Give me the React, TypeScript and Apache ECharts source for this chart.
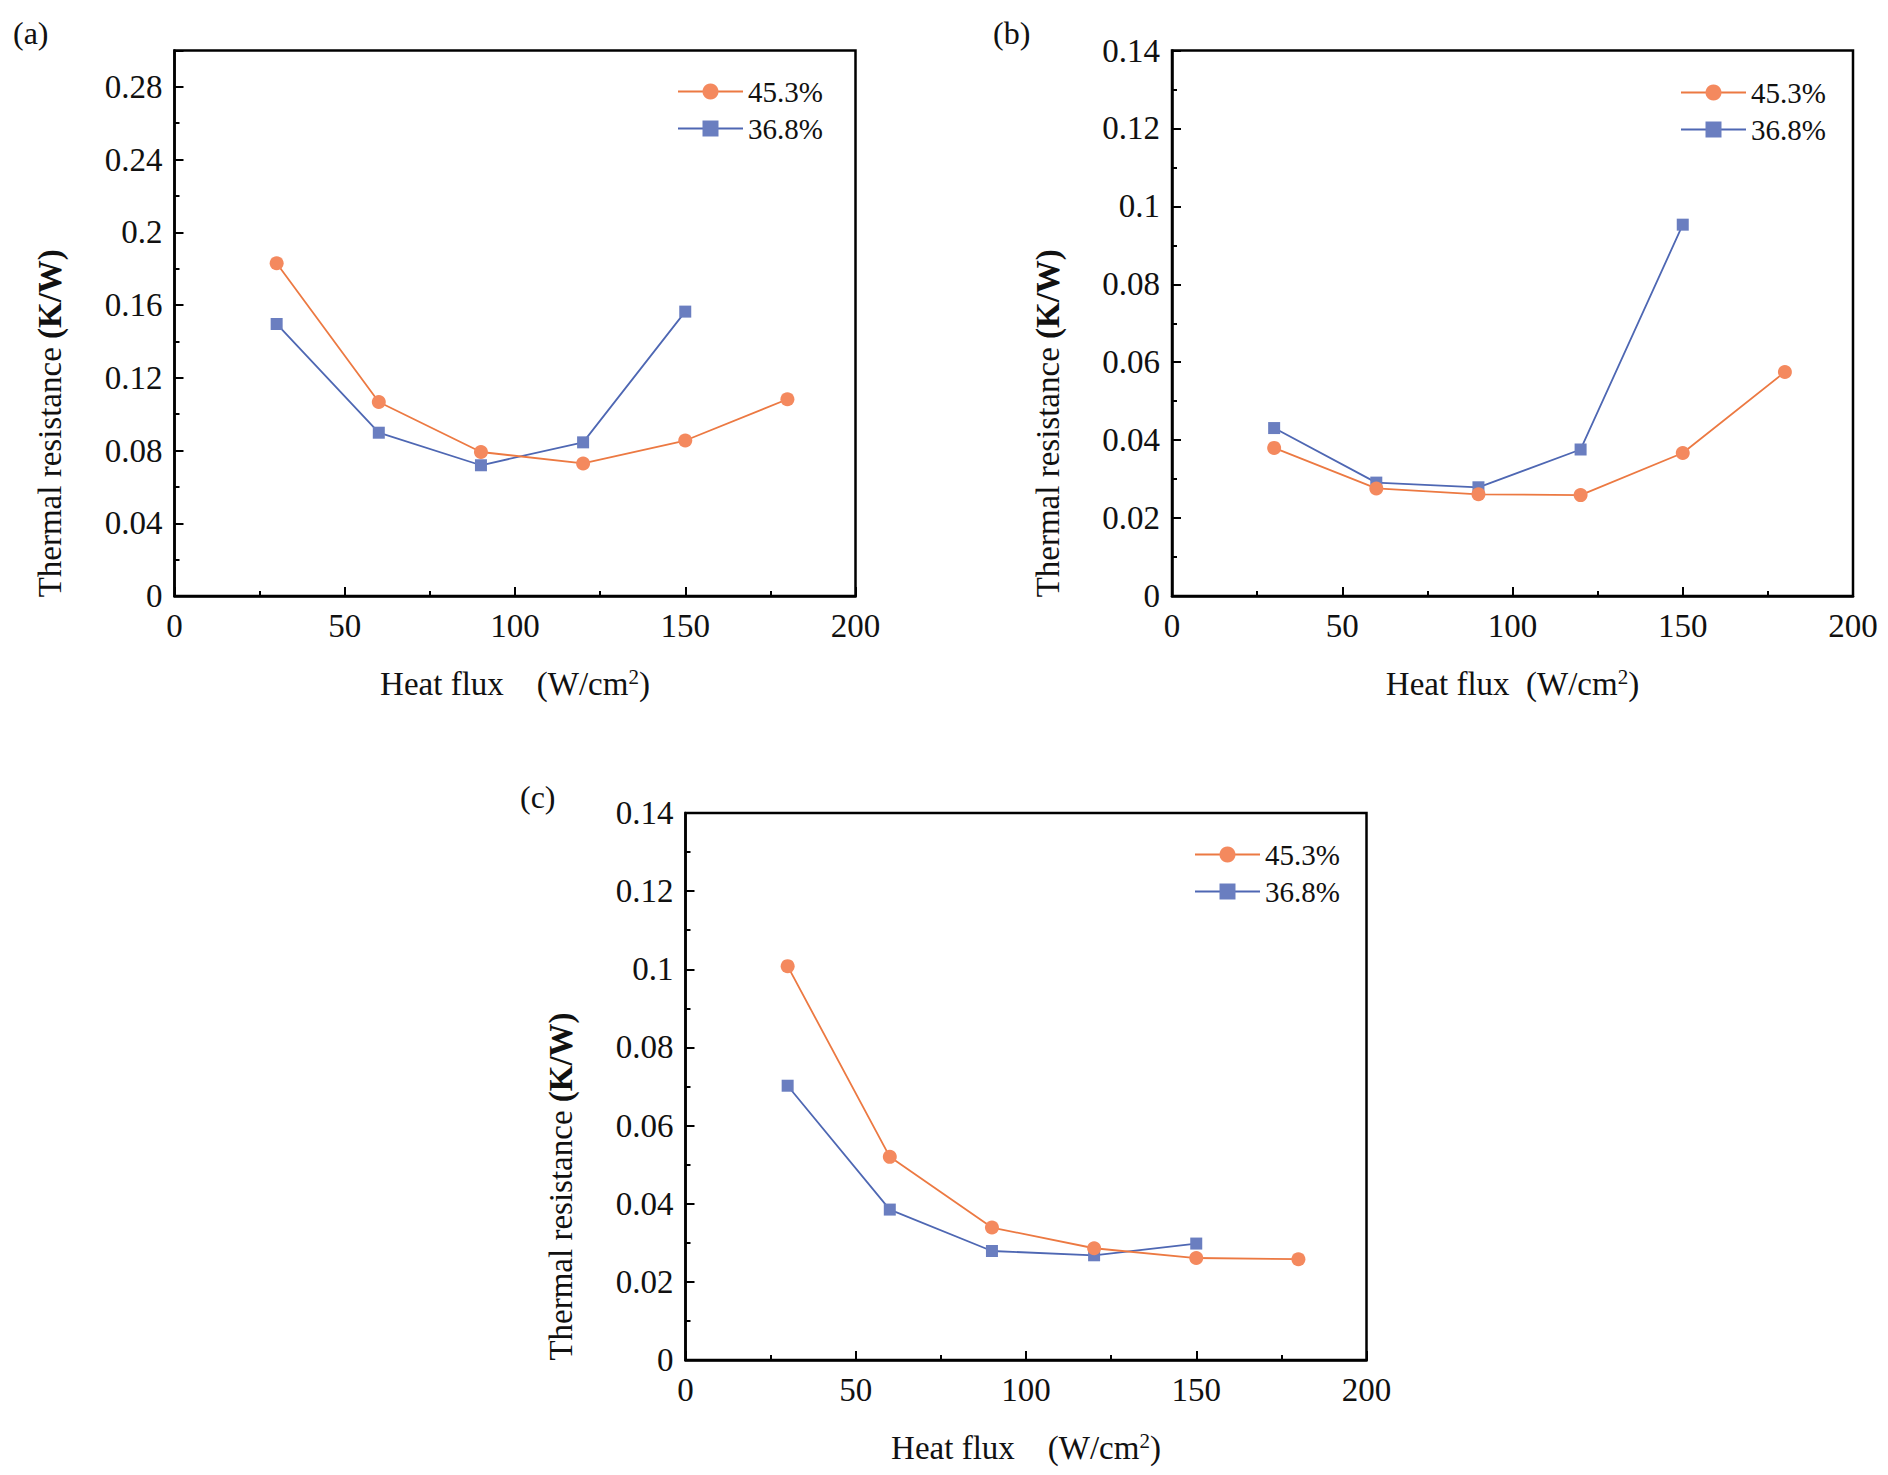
import React, { useEffect, useRef } from "react";
import * as echarts from "echarts";

const heatFlux = [30, 60, 90, 120, 150, 180];
const heatFluxBlue = [30, 60, 90, 120, 150];

const aOrange = [0.183, 0.1067, 0.0792, 0.0729, 0.0855, 0.1082];
const aBlue = [0.1496, 0.0898, 0.0719, 0.0845, 0.1564];
const bOrange = [0.038, 0.0276, 0.0261, 0.0259, 0.0367, 0.0575];
const bBlue = [0.0431, 0.0291, 0.0279, 0.0376, 0.0953];
const cOrange = [0.1008, 0.052, 0.0339, 0.0286, 0.0261, 0.0258];
const cBlue = [0.0702, 0.0385, 0.0279, 0.0268, 0.0298];

const seriesNames = ["45.3%", "36.8%"];
const panelLabels = ["(a)", "(b)", "(c)"];
const xTitleParts = ["Heat flux", "(W/cm", "2", ")"];
const yTitleParts = ["Thermal resistance ", "(K/W)"];

const FONT = "Liberation Serif";
const ORANGE_SYM = "#F4895E";
const ORANGE_LINE = "#EC7942";
const BLUE_SYM = "#6A7EC0";
const BLUE_LINE = "#4E67B3";

const grids = [
  { left: 174.5, top: 50.5, width: 681, height: 545.5 },
  { left: 1172, top: 50.5, width: 681, height: 545.5 },
  { left: 685.5, top: 813, width: 681, height: 547 },
];
const yMax = [0.3, 0.14, 0.14];
const yInterval = [0.04, 0.02, 0.02];
const xGaps = ["\u00A0\u00A0\u00A0\u00A0", "\u00A0\u00A0", "\u00A0\u00A0\u00A0\u00A0"];
const legendPos = [
  { left: 677, top: 77 },
  { left: 1680, top: 78 },
  { left: 1194, top: 840 },
];
const labelPos = [
  { left: 13, top: 17 },
  { left: 993, top: 17 },
  { left: 520, top: 781 },
];

function pairs(xs: number[], ys: number[]) {
  return ys.map((y, i) => [xs[i], y]);
}

export default function App() {
  const ref = useRef<HTMLDivElement>(null);
  useEffect(() => {
    if (!ref.current) return;
    const chart = echarts.init(ref.current, null, { renderer: "svg" });
    const data = [
      [aOrange, aBlue],
      [bOrange, bBlue],
      [cOrange, cBlue],
    ];
    const axisLine = { show: true, lineStyle: { color: "#000", width: 2.5 } };
    const tick = { show: true, inside: true, length: 9, lineStyle: { color: "#000", width: 2 } };
    const minor = { show: true, splitNumber: 2, length: 5, lineStyle: { color: "#000", width: 2 } };
    const label = { color: "#111", fontFamily: FONT, fontSize: 33 };

    const option: any = {
      animation: false,
      backgroundColor: "#fff",
      title: panelLabels.map((t, i) => ({
        text: t,
        left: labelPos[i].left,
        top: labelPos[i].top,
        padding: 0,
        textStyle: { fontFamily: FONT, fontSize: 32, fontWeight: "normal", color: "#111" },
      })),
      grid: grids.map((g) => ({
        ...g,
        show: true,
        borderColor: "#000",
        borderWidth: 2.5,
        backgroundColor: "transparent",
        containLabel: false,
      })),
      legend: legendPos.map((p) => ({
        ...p,
        orient: "vertical",
        data: seriesNames,
        itemWidth: 65,
        itemHeight: 20,
        itemGap: 8,
        padding: 0,
        textStyle: { fontFamily: FONT, fontSize: 29, color: "#111", lineHeight: 28 },
      })),
      xAxis: grids.map((_, i) => ({
        type: "value",
        gridIndex: i,
        min: 0,
        max: 200,
        interval: 50,
        axisLine,
        axisTick: tick,
        minorTick: minor,
        splitLine: { show: false },
        axisLabel: { ...label, margin: 13 },
        name:
          "{a|" + xTitleParts[0] + xGaps[i] + xTitleParts[1] + "}{s|" + xTitleParts[2] + "}{a|" + xTitleParts[3] + "}",
        nameLocation: "middle",
        nameGap: 70,
        nameTextStyle: {
          rich: {
            a: { fontFamily: FONT, fontSize: 33, color: "#111", lineHeight: 36 },
            s: { fontFamily: FONT, fontSize: 21, color: "#111", lineHeight: 20, verticalAlign: "top" },
          },
        },
      })),
      yAxis: grids.map((_, i) => ({
        type: "value",
        gridIndex: i,
        min: 0,
        max: yMax[i],
        interval: yInterval[i],
        axisLine,
        axisTick: tick,
        minorTick: minor,
        splitLine: { show: false },
        axisLabel: { ...label, margin: 12, showMaxLabel: i !== 0 },
        name: "{a|" + yTitleParts[0] + "}{b|" + yTitleParts[1] + "}",
        nameLocation: "middle",
        nameRotate: 90,
        nameGap: 108,
        nameTextStyle: {
          padding: [0, 200, 0, 0],
          rich: {
            a: { fontFamily: FONT, fontSize: 33, color: "#111" },
            b: { fontFamily: FONT, fontSize: 33, color: "#111", fontWeight: "bold" },
          },
        },
      })),
      series: data.flatMap((d, i) => [
        {
          name: seriesNames[0],
          type: "line",
          xAxisIndex: i,
          yAxisIndex: i,
          data: pairs(heatFlux, d[0]),
          symbol: "circle",
          symbolSize: 14,
          itemStyle: { color: ORANGE_SYM },
          lineStyle: { color: ORANGE_LINE, width: 1.8 },
          z: 3,
        },
        {
          name: seriesNames[1],
          type: "line",
          xAxisIndex: i,
          yAxisIndex: i,
          data: pairs(heatFluxBlue, d[1]),
          symbol: "rect",
          symbolSize: 12,
          itemStyle: { color: BLUE_SYM },
          lineStyle: { color: BLUE_LINE, width: 1.8 },
          z: 2,
        },
      ]),
    };
    chart.setOption(option);
    return () => chart.dispose();
  }, []);
  return (
    <div
      ref={ref}
      style={{ position: "absolute", left: 0, top: 0, width: 1888, height: 1475, background: "#fff" }}
    />
  );
}
